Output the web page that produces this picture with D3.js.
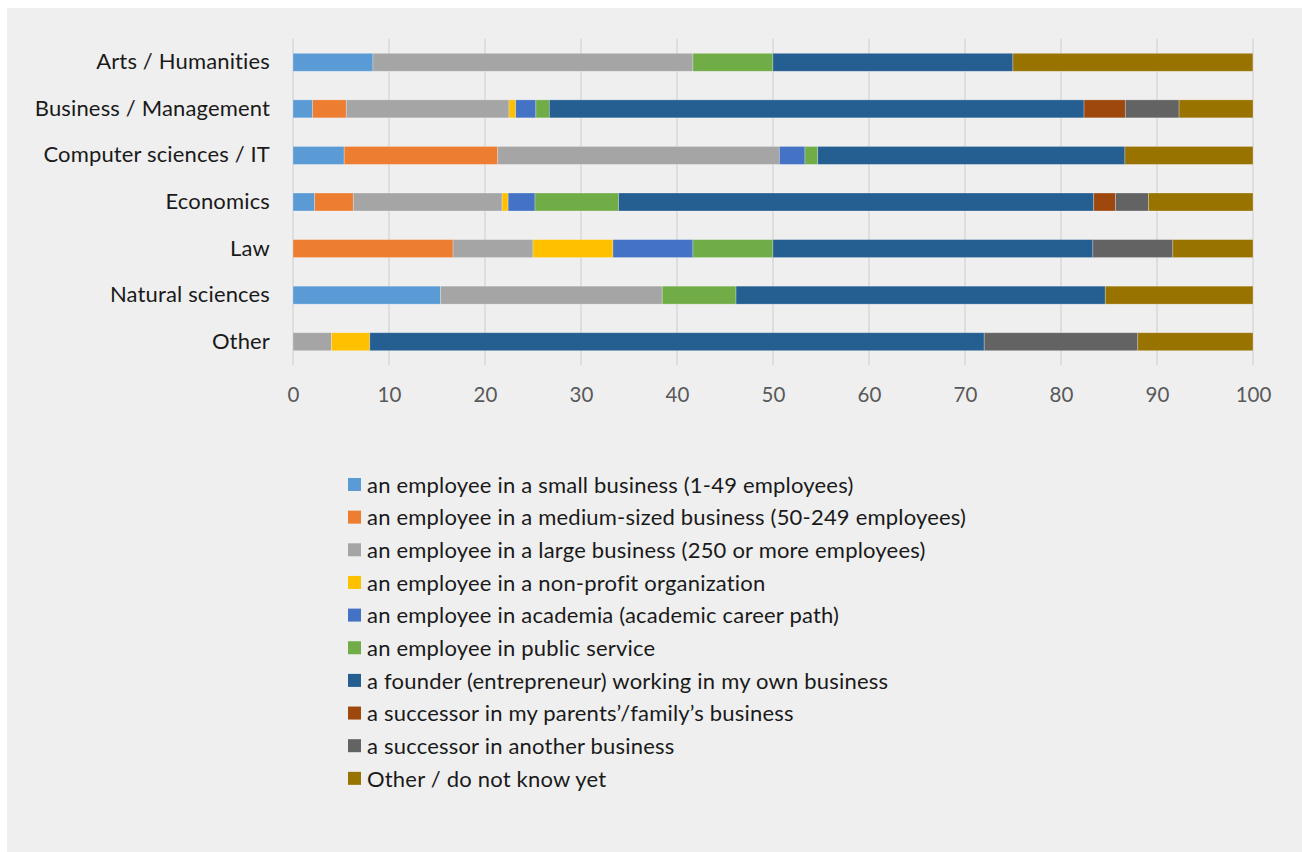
<!DOCTYPE html>
<html>
<head>
<meta charset="utf-8">
<script src="https://cdn.jsdelivr.net/npm/d3@7/dist/d3.min.js"></script>
<style>
  html, body { margin: 0; padding: 0; background: #ffffff; }
  svg { display: block; }
  text { font-family: Lato, "Open Sans", sans-serif; }
</style>
</head>
<body>
<svg id="chart" width="1302" height="852"></svg>
<script>
// Fields of study (rows, top to bottom)
const categories = [
  "Arts / Humanities",
  "Business / Management",
  "Computer sciences / IT",
  "Economics",
  "Law",
  "Natural sciences",
  "Other"
];

// Career aspirations (stack order, left to right)
const seriesNames = [
  "an employee in a small business (1-49 employees)",
  "an employee in a medium-sized business (50-249 employees)",
  "an employee in a large business (250 or more employees)",
  "an employee in a non-profit organization",
  "an employee in academia (academic career path)",
  "an employee in public service",
  "a founder (entrepreneur) working in my own business",
  "a successor in my parents\u2019/family\u2019s business",
  "a successor in another business",
  "Other / do not know yet"
];

const seriesColors = [
  "#5b9bd5", "#ed7d31", "#a5a5a5", "#ffc000", "#4472c4",
  "#70ad47", "#255e91", "#9e480e", "#636363", "#997300"
];

// Percent shares per series, one value per category (same order as categories)
const smallBusiness   = [8.33, 2.05, 5.33, 2.26, 0,     15.38, 0];
const mediumBusiness  = [0,    3.50, 16.00, 4.02, 16.67, 0,    0];
const largeBusiness   = [33.33, 16.95, 29.33, 15.50, 8.33, 23.08, 4];
const nonProfit       = [0,    0.70, 0,    0.63, 8.33,  0,     4];
const academia        = [0,    2.10, 2.67, 2.80, 8.33,  0,     0];
const publicService   = [8.33, 1.40, 1.33, 8.70, 8.33,  7.69,  0];
const founder         = [25.00, 55.70, 32.00, 49.50, 33.33, 38.46, 64];
const successorFamily = [0,    4.30, 0,    2.26, 0,     0,     0];
const successorOther  = [0,    5.60, 0,    3.44, 8.33,  0,     16];
const otherUnknown    = [25.00, 7.70, 13.34, 10.89, 8.35, 15.39, 12];

const xTicks = [0, 10, 20, 30, 40, 50, 60, 70, 80, 90, 100];

const seriesValues = [
  smallBusiness, mediumBusiness, largeBusiness, nonProfit, academia,
  publicService, founder, successorFamily, successorOther, otherUnknown
];

// Rows for d3.stack: one object per category
const rows = categories.map((c, i) => {
  const r = { category: c };
  seriesNames.forEach((s, j) => { r[s] = seriesValues[j][i]; });
  return r;
});

const stacked = d3.stack().keys(seriesNames)(rows);

const svg = d3.select("#chart");

// Chart area background
svg.append("rect")
  .attr("x", 7).attr("y", 8)
  .attr("width", 1295).attr("height", 844)
  .attr("fill", "#efefef");

const plot = { left: 293, right: 1253, top: 39, bottom: 365 };

const x = d3.scaleLinear().domain([0, 100]).range([plot.left, plot.right]);
const y = d3.scaleBand()
  .domain(categories)
  .range([plot.top, plot.bottom])
  .paddingInner(0.614)
  .paddingOuter(0.307);

// Vertical gridlines
svg.append("g")
  .selectAll("line")
  .data(xTicks)
  .join("line")
  .attr("x1", d => x(d)).attr("x2", d => x(d))
  .attr("y1", plot.top).attr("y2", plot.bottom)
  .attr("stroke", "#d9d9d9")
  .attr("stroke-width", 1.5);

// Stacked bars
svg.append("g")
  .selectAll("g")
  .data(stacked)
  .join("g")
  .attr("fill", (d, i) => seriesColors[i])
  .selectAll("rect")
  .data(d => d.filter(seg => seg[1] - seg[0] > 0))
  .join("rect")
  .attr("x", d => x(d[0]))
  .attr("y", d => y(d.data.category))
  .attr("width", d => x(d[1]) - x(d[0]))
  .attr("height", y.bandwidth())
  .attr("stroke", "#ffffff")
  .attr("stroke-opacity", 0.35)
  .attr("stroke-width", 0.75);

// X axis tick labels
const xAxis = d3.axisBottom(x).tickValues(xTicks).tickSize(0).tickPadding(0);
const xg = svg.append("g")
  .attr("transform", `translate(0, ${plot.bottom + 22})`)
  .call(xAxis);
xg.select(".domain").remove();
xg.selectAll("text")
  .attr("dy", "0.71em")
  .attr("fill", "#595959")
  .style("font-size", "20.5px")
  .style("font-family", "Lato, 'Open Sans', sans-serif");

// Category labels
const yAxis = d3.axisLeft(y).tickSize(0).tickPadding(0);
const yg = svg.append("g")
  .attr("transform", `translate(${plot.left - 23}, 0)`)
  .call(yAxis);
yg.select(".domain").remove();
yg.selectAll("text")
  .attr("fill", "#1a1a1a")
  .style("font-size", "22px")
  .style("letter-spacing", "0.15px")
  .style("font-family", "Lato, 'Open Sans', sans-serif");

// Legend
const legend = svg.append("g").attr("transform", "translate(348, 485)");
const item = legend.selectAll("g")
  .data(seriesNames)
  .join("g")
  .attr("transform", (d, i) => `translate(0, ${i * 32.65})`);
item.append("rect")
  .attr("x", 0).attr("y", -7)
  .attr("width", 13).attr("height", 13)
  .attr("fill", (d, i) => seriesColors[i]);
item.append("text")
  .attr("x", 19)
  .attr("y", 0)
  .attr("dy", "0.35em")
  .attr("fill", "#1a1a1a")
  .style("font-size", "22px")
  .style("letter-spacing", "0.2px")
  .text(d => d);
</script>
</body>
</html>
